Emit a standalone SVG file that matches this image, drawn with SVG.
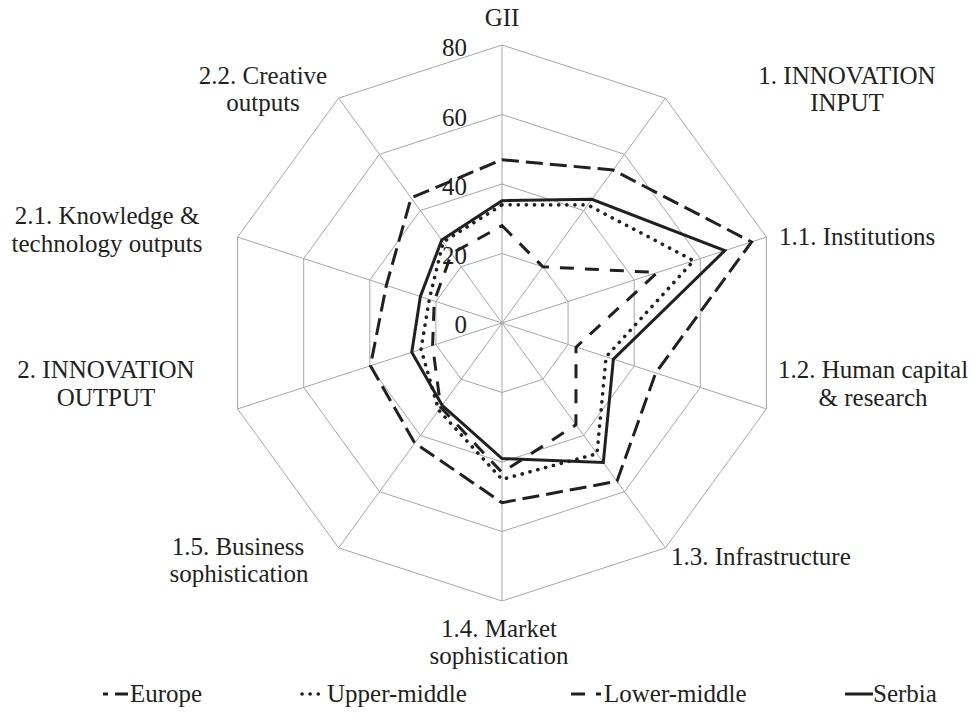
<svg xmlns="http://www.w3.org/2000/svg" width="974" height="720" viewBox="0 0 974 720">
<style>
.grid{fill:none;stroke:#a6a6a6;stroke-width:1}
.s{fill:none;stroke:#231f20;stroke-width:3;stroke-linejoin:miter}
.eu{stroke-dasharray:17 7}
.um{stroke-dasharray:0.1 8;stroke-linecap:round;stroke-width:3.6}
.lm{stroke-dasharray:14 11}
text{font-family:"Liberation Serif","Times New Roman",serif;font-size:25px;fill:#231f20}
.m{text-anchor:middle}
.e{text-anchor:end}
</style>
<rect width="974" height="720" fill="#fff"/>
<g id="grid">
<polygon class="grid" points="502,45 665.40,98.10 766.39,237.09 766.39,408.91 665.40,547.90 502,601 338.60,547.90 237.61,408.91 237.61,237.09 338.60,98.10"/>
<polygon class="grid" points="502,114.5 624.55,154.32 700.30,258.57 700.30,387.43 624.55,491.68 502,531.5 379.45,491.68 303.70,387.43 303.70,258.57 379.45,154.32"/>
<polygon class="grid" points="502,184 583.70,210.55 634.20,280.05 634.20,365.95 583.70,435.45 502,462 420.30,435.45 369.80,365.95 369.80,280.05 420.30,210.55"/>
<polygon class="grid" points="502,253.5 542.85,266.77 568.10,301.52 568.10,344.48 542.85,379.23 502,392.5 461.15,379.23 435.90,344.48 435.90,301.52 461.15,266.77"/>
<path class="grid" d="M502,323L502,45M502,323L665.40,98.10M502,323L766.39,237.09M502,323L766.39,408.91M502,323L665.40,547.90M502,323L502,601M502,323L338.60,547.90M502,323L237.61,408.91M502,323L237.61,237.09M502,323L338.60,98.10"/>
</g>
<g id="axis-values">
<text class="e" x="467" y="56">80</text>
<text class="e" x="467" y="126">60</text>
<text class="e" x="467" y="195">40</text>
<text class="e" x="467" y="264">20</text>
<text class="e" x="467" y="333">0</text>
</g>
<g id="connectors">
<polygon id="europe" class="s eu" points="502,159.67 613.11,170.06 751.52,241.93 655.68,372.93 617.00,481.28 502,502.66 414.78,443.04 370.46,365.74 386.32,285.41 411.11,197.89"/>
<polygon id="upper-middle" class="s um" points="502,204.85 587.79,204.92 693.69,260.72 606.10,356.83 596.98,453.73 502,479.38 438.68,410.16 421.03,349.31 429.29,299.38 443.17,242.03"/>
<polygon id="lower-middle" class="s lm" points="502,225.70 542.85,266.77 657.34,272.53 576.03,347.05 575.94,424.77 502,472.43 440.72,407.34 432.59,345.55 434.25,300.99 451.55,253.56"/>
<polygon id="serbia" class="s" points="502,200.68 591.87,199.30 724.76,250.62 613.38,359.19 603.31,462.44 502,458.53 442.15,405.37 411.77,352.32 420.37,296.48 441.75,240.07"/>
</g>
<g id="label-gii"><text class="m" x="502" y="26">GII</text></g>
<g id="label-input"><text class="m" x="847" y="84">1. INNOVATION</text><text class="m" x="847" y="111">INPUT</text></g>
<g id="label-institutions"><text x="779" y="245">1.1. Institutions</text></g>
<g id="label-human"><text class="m" x="873" y="378">1.2. Human capital</text><text class="m" x="873" y="406">&amp; research</text></g>
<g id="label-infra"><text x="671" y="565">1.3. Infrastructure</text></g>
<g id="label-market"><text class="m" x="499" y="637">1.4. Market</text><text class="m" x="499" y="664">sophistication</text></g>
<g id="label-business"><text class="m" x="238" y="555">1.5. Business</text><text class="m" x="239" y="582">sophistication</text></g>
<g id="label-output"><text class="m" x="106" y="378">2. INNOVATION</text><text class="m" x="106" y="406">OUTPUT</text></g>
<g id="label-knowledge"><text class="m" x="107" y="224">2.1. Knowledge &amp;</text><text class="m" x="107" y="252">technology outputs</text></g>
<g id="label-creative"><text class="m" x="263" y="84">2.2. Creative</text><text class="m" x="263" y="111">outputs</text></g>
<g id="legend">
<path class="s eu" d="M103,694H128" stroke-dashoffset="12"/>
<text x="130" y="702">Europe</text>
<path class="s um" d="M302,694H325"/>
<text x="327" y="702">Upper-middle</text>
<path class="s lm" d="M571,694H601"/>
<text x="604" y="702">Lower-middle</text>
<path class="s" d="M845,694H873"/>
<text x="873" y="702">Serbia</text>
</g>
</svg>
